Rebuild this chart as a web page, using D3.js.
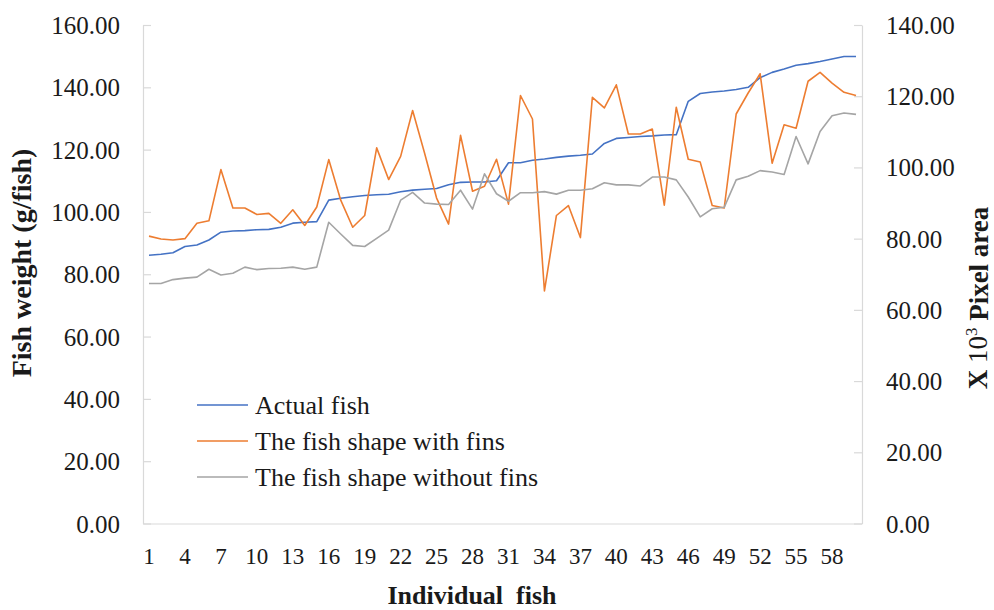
<!DOCTYPE html>
<html>
<head>
<meta charset="utf-8">
<script src="https://cdn.jsdelivr.net/npm/d3@7"></script>
<style>
  html, body { margin: 0; padding: 0; background: #fff; }
  svg { display: block; }
  text { font-family: "Liberation Serif", "Times New Roman", serif; fill: #1a1a1a; }
</style>
</head>
<body>
<svg id="chart" width="994" height="610"></svg>
<script>
// ---- data ----
const categories = d3.range(1, 61);
const actualFish = [86.1, 86.4, 86.9, 88.9, 89.4, 91.0, 93.5, 93.9, 94.0, 94.3,
  94.4, 95.1, 96.4, 96.7, 96.9, 103.8, 104.4, 104.9, 105.3, 105.5,
  105.7, 106.5, 107.0, 107.3, 107.5, 108.7, 109.5, 109.6, 109.6, 110.0,
  115.8, 115.8, 116.6, 117.0, 117.5, 117.9, 118.2, 118.6, 122.0, 123.6,
  123.9, 124.2, 124.4, 124.7, 124.8, 135.5, 138.0, 138.5, 138.8, 139.3,
  140.0, 143.1, 144.8, 145.9, 147.1, 147.6, 148.3, 149.1, 149.9, 149.9];
const shapeWithFins = [80.7, 79.9, 79.6, 80.0, 84.3, 85.0, 99.4, 88.6, 88.6, 86.8,
  87.1, 84.3, 88.1, 83.7, 88.9, 102.2, 90.8, 83.2, 86.5, 105.5,
  96.6, 103.1, 116.0, 104.0, 91.4, 84.1, 109.0, 93.3, 94.7, 102.3,
  89.7, 120.2, 113.6, 65.3, 86.5, 89.3, 80.3, 119.7, 116.7, 123.2,
  109.4, 109.4, 110.8, 89.4, 116.9, 102.3, 101.5, 89.3, 88.6, 115.0,
  120.9, 126.3, 101.2, 112.0, 111.0, 124.2, 126.7, 123.7, 121.1, 120.2];
const shapeWithoutFins = [67.4, 67.4, 68.5, 68.9, 69.2, 71.4, 69.8, 70.3, 72.0, 71.3,
  71.6, 71.7, 72.0, 71.4, 72.0, 84.6, 81.3, 78.1, 77.8, 80.1,
  82.4, 90.8, 93.0, 90.0, 89.7, 89.6, 93.6, 88.3, 98.2, 92.6,
  90.5, 92.9, 92.9, 93.2, 92.5, 93.6, 93.6, 94.0, 95.7, 95.1,
  95.1, 94.8, 97.3, 97.3, 96.5, 91.7, 86.1, 88.4, 88.8, 96.5,
  97.5, 99.1, 98.7, 98.0, 108.7, 101.0, 110.1, 114.5, 115.3, 114.9];
const leftTicks = [0, 20, 40, 60, 80, 100, 120, 140, 160];
const rightTicks = [0, 20, 40, 60, 80, 100, 120, 140];
const xTickLabels = [1, 4, 7, 10, 13, 16, 19, 22, 25, 28, 31, 34, 37, 40, 43, 46, 49, 52, 55, 58];
const seriesNames = ["Actual fish", "The fish shape with fins", "The fish shape without fins"];

// ---- layout ----
const L = 143, R = 862, T = 25, B = 523.5;
const colors = ["#4472C4", "#ED7D31", "#A5A5A5"];
const axisColor = "#d9d9d9";

const svg = d3.select("#chart");
const x = d3.scaleBand().domain(categories).range([L, R]);
const yL = d3.scaleLinear().domain([0, 160]).range([B, T]);
const yR = d3.scaleLinear().domain([0, 140]).range([B, T]);
const cx = c => x(c) + x.bandwidth() / 2;

const leftAxis = d3.axisLeft(yL).tickValues(leftTicks).tickSize(-8).tickSizeOuter(0)
  .tickPadding(23).tickFormat(d3.format(".2f"));
const gL = svg.append("g").attr("transform", `translate(${L},0)`).call(leftAxis);
const rightAxis = d3.axisRight(yR).tickValues(rightTicks).tickSize(-8).tickSizeOuter(0)
  .tickPadding(24).tickFormat(d3.format(".2f"));
const gR = svg.append("g").attr("transform", `translate(${R},0)`).call(rightAxis);
const bottomAxis = d3.axisBottom(x).tickValues(xTickLabels).tickSize(0).tickSizeOuter(0).tickPadding(24);
const gB = svg.append("g").attr("transform", `translate(0,${B})`).call(bottomAxis);

[gL, gR, gB].forEach(g => {
  g.selectAll(".domain").attr("stroke", axisColor).attr("stroke-width", 1.2);
  g.selectAll(".tick line").attr("stroke", axisColor).attr("stroke-width", 1.2);
  g.selectAll("text").attr("font-family", "Liberation Serif").attr("fill", "#1a1a1a");
});
gL.selectAll("text").attr("font-size", 25).attr("dy", "0.34em");
gR.selectAll("text").attr("font-size", 25).attr("dy", "0.34em");
gB.selectAll("text").attr("font-size", 23).attr("dy", "0.72em");

// lines
const series = [
  { values: actualFish, y: yL, color: colors[0] },
  { values: shapeWithFins, y: yR, color: colors[1] },
  { values: shapeWithoutFins, y: yR, color: colors[2] }
];
series.forEach(s => {
  const line = d3.line().x((d, i) => cx(categories[i])).y(d => s.y(d));
  svg.append("path").datum(s.values)
    .attr("d", line)
    .attr("fill", "none")
    .attr("stroke", s.color)
    .attr("stroke-width", 1.6)
    .attr("stroke-linejoin", "round");
});

// legend
const legend = svg.append("g");
seriesNames.forEach((name, i) => {
  const yy = 405 + i * 36;
  legend.append("line").attr("x1", 197).attr("x2", 248).attr("y1", yy).attr("y2", yy)
    .attr("stroke", colors[i]).attr("stroke-width", 1.6);
  legend.append("text").attr("x", 255).attr("y", yy + 8.5)
    .attr("font-size", 26).text(name);
});

// axis titles
svg.append("text")
  .attr("transform", "translate(31,263) rotate(-90)")
  .attr("text-anchor", "middle")
  .attr("font-size", 28).attr("font-weight", "bold")
  .text("Fish weight (g/fish)");

const rt = svg.append("text")
  .attr("transform", "translate(987,298) rotate(-90)")
  .attr("text-anchor", "middle")
  .attr("font-size", 27).attr("font-weight", "bold");
rt.append("tspan").text("X ");
rt.append("tspan").attr("font-weight", "normal").text("10");
rt.append("tspan").attr("font-weight", "normal").attr("font-size", 17).attr("dy", "-0.6em").text("3");
rt.append("tspan").attr("dy", "0.4em").text(" Pixel area");

svg.append("text")
  .attr("x", 472).attr("y", 604)
  .attr("text-anchor", "middle")
  .attr("font-size", 26).attr("font-weight", "bold")
  .style("white-space", "pre")
  .text("Individual  fish");
</script>
</body>
</html>
